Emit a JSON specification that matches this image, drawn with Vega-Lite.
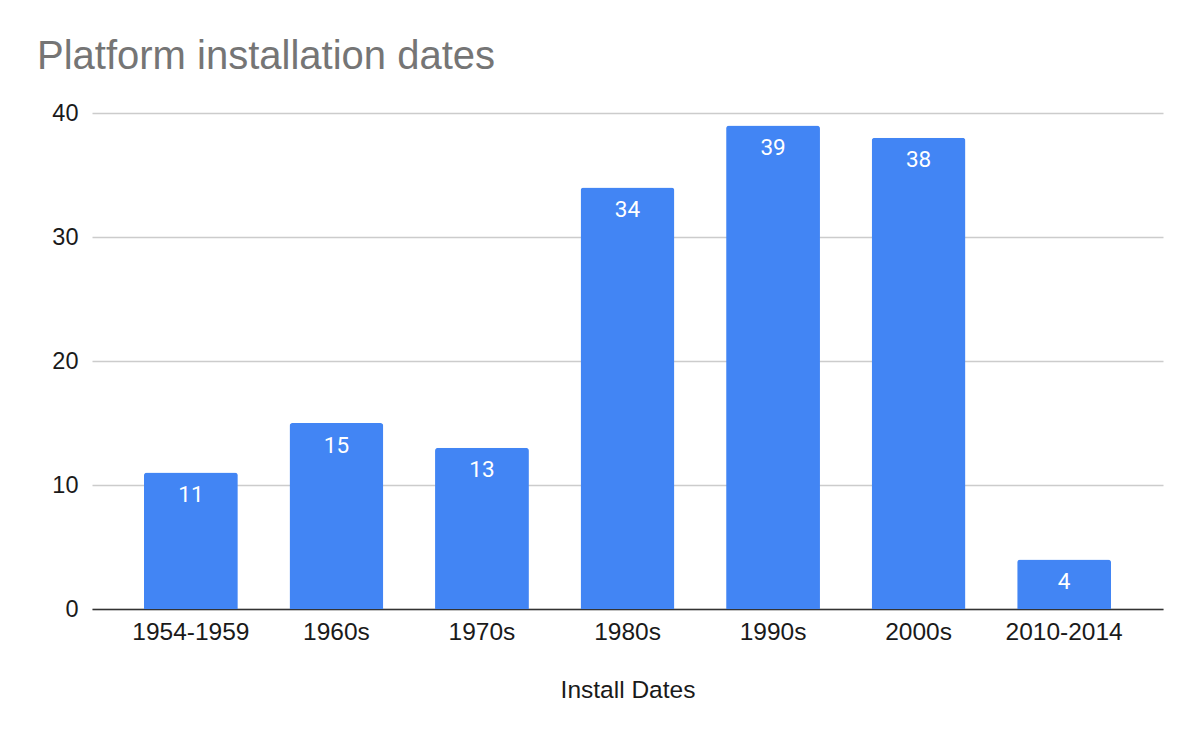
{
  "$schema": "https://vega.github.io/schema/vega-lite/v6.json",
  "autosize": {"type": "none"},
  "padding": {"left": 92, "top": 113, "right": 37, "bottom": 133},
  "width": 1071,
  "height": 496,
  "background": "white",
  "title": {
    "text": "Platform installation dates",
    "anchor": "start",
    "frame": "group",
    "dx": -55,
    "offset": 24,
    "font": "Liberation Sans",
    "fontSize": 40,
    "fontWeight": "normal",
    "color": "#757575"
  },
  "data": {
    "values": [
      {"period": "1954-1959", "count": 11},
      {"period": "1960s", "count": 15},
      {"period": "1970s", "count": 13},
      {"period": "1980s", "count": 34},
      {"period": "1990s", "count": 39},
      {"period": "2000s", "count": 38},
      {"period": "2010-2014", "count": 4}
    ]
  },
  "config": {"view": {"stroke": null}},
  "encoding": {
    "x": {
      "field": "period",
      "type": "nominal",
      "sort": null,
      "scale": {"paddingInner": 0.355, "paddingOuter": 0.357},
      "axis": {
        "title": "Install Dates",
        "titleFont": "Liberation Sans",
        "titleFontSize": 24.5,
        "titleFontWeight": "normal",
        "titleColor": "#1a1a1a",
        "titlePadding": 35,
        "labelFont": "Liberation Sans",
        "labelFontSize": 24.5,
        "labelColor": "#1a1a1a",
        "labelAngle": 0,
        "labelPadding": 11,
        "ticks": false,
        "domainColor": "#333333",
        "domainWidth": 1.5
      }
    },
    "y": {
      "field": "count",
      "type": "quantitative",
      "scale": {"domain": [0, 40]},
      "axis": {
        "title": null,
        "values": [0, 10, 20, 30, 40],
        "labelFont": "Liberation Sans",
        "labelFontSize": 23.5,
        "labelColor": "#1a1a1a",
        "labelPadding": 14,
        "ticks": false,
        "domain": false,
        "gridColor": "#cccccc",
        "gridWidth": 1.5
      }
    }
  },
  "layer": [
    {
      "mark": {"type": "bar", "color": "#4285F4", "cornerRadiusTopLeft": 3, "cornerRadiusTopRight": 3}
    },
    {
      "mark": {"type": "text", "color": "white", "font": "Roboto", "fontSize": 22.5, "baseline": "middle", "dy": 22.5},
      "encoding": {"text": {"field": "count", "type": "quantitative"}}
    }
  ]
}
